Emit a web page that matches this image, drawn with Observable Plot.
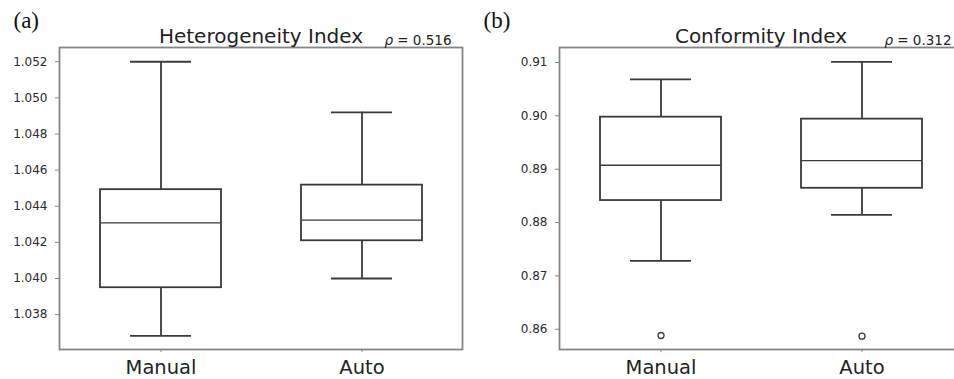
<!DOCTYPE html>
<html>
<head>
<meta charset="utf-8">
<script src="https://cdn.jsdelivr.net/npm/d3@7"></script>
<script src="https://cdn.jsdelivr.net/npm/@observablehq/plot@0.6"></script>
<style>
  html, body { margin: 0; padding: 0; background: #fff; }
  #wrap { position: relative; width: 954px; height: 379px; overflow: hidden; background: #fff; }
  .panel { position: absolute; top: 0; }
  .panel svg { display: block; max-width: none !important; }
</style>
</head>
<body>
<div id="wrap">
  <div id="pa" class="panel" style="left:0px; width:470px"></div>
  <div id="pb" class="panel" style="left:470px; width:500px"></div>
</div>
<script>
// ---- data ----
const categories = ["Manual", "Auto"];

// Heterogeneity Index (panel a)
const hetMin = [1.03682, 1.04000];
const hetQ1  = [1.03949, 1.04209];
const hetMed = [1.04308, 1.04323];
const hetQ3  = [1.04492, 1.04517];
const hetMax = [1.05200, 1.04920];
const hetTicks = [1.038, 1.040, 1.042, 1.044, 1.046, 1.048, 1.050, 1.052];
const hetDomain = [1.03607, 1.05279];
const hetRho = "ρ = 0.516";

// Conformity Index (panel b)
const confMin = [0.87281, 0.88142];
const confQ1  = [0.88412, 0.88642];
const confMed = [0.89075, 0.89161];
const confQ3  = [0.89975, 0.89938];
const confMax = [0.90682, 0.91010];
const confOutCats = ["Manual", "Auto"];
const confOutVals = [0.85882, 0.85870];
const confTicks = [0.86, 0.87, 0.88, 0.89, 0.90, 0.91];
const confDomain = [0.8562, 0.91281];
const confRho = "ρ = 0.312";

const LINE = "#3a3a3a";
const FRAME = "#858585";
const TEXT = "#222";

function makePanel({width, marginLeft, marginRight, stats, outCats, outVals, ticks, domain, fmt, title, rho, tag}) {
  const rows = categories.map((c, i) => ({cat: c, lo: stats[0][i], q1: stats[1][i], med: stats[2][i], q3: stats[3][i], hi: stats[4][i]}));
  const outs = (outCats || []).map((c, i) => ({cat: c, v: outVals[i]}));
  const svg = Plot.plot({
    width, height: 379,
    marginLeft, marginRight, marginTop: 47, marginBottom: 30,
    style: {fontFamily: "DejaVu Sans", color: TEXT, background: "transparent", overflow: "visible", maxWidth: "none"},
    x: {domain: categories, paddingInner: 0.4, paddingOuter: 0.2, axis: null},
    y: {domain, axis: null},
    marks: [
      Plot.ruleX(rows, {x: "cat", y1: "lo", y2: "q1", stroke: LINE, strokeWidth: 1.8}),
      Plot.ruleX(rows, {x: "cat", y1: "q3", y2: "hi", stroke: LINE, strokeWidth: 1.8}),
      Plot.tickY(rows, {x: "cat", y: "lo", stroke: LINE, strokeWidth: 1.8, insetLeft: 30, insetRight: 30}),
      Plot.tickY(rows, {x: "cat", y: "hi", stroke: LINE, strokeWidth: 1.8, insetLeft: 30, insetRight: 30}),
      Plot.barY(rows, {x: "cat", y1: "q1", y2: "q3", fill: "white", stroke: LINE, strokeWidth: 1.8}),
      Plot.tickY(rows, {x: "cat", y: "med", stroke: LINE, strokeWidth: 1.4}),
      Plot.dot(outs, {x: "cat", y: "v", r: 3, stroke: LINE, strokeWidth: 1.3, fill: "white"}),
      Plot.frame({stroke: FRAME, strokeWidth: 1.8}),
      Plot.axisY({ticks, tickFormat: d3.format(fmt), tickSize: 4, tickPadding: 8, fontSize: 12, label: null, stroke: FRAME, fill: "#2a2a2a"}),
      Plot.axisX({tickSize: 3, tickPadding: 7.5, fontSize: 19.5, label: null, stroke: FRAME, fill: TEXT}),
      Plot.text([title], {frameAnchor: "top", lineAnchor: "middle", text: d => d, dy: -11.4, fontSize: 20, fill: TEXT}),
      Plot.text([rho], {frameAnchor: "top-right", lineAnchor: "middle", textAnchor: "end", text: d => d, dx: -11, dy: -6.5, fontSize: 13.5, fill: TEXT}),
      Plot.text([tag], {frameAnchor: "top-left", lineAnchor: "middle", textAnchor: "start", text: d => d, dx: -(marginLeft - 13), dy: -26.5, fontSize: 23, fontFamily: "Liberation Serif", fill: "#111"})
    ]
  });
  // italicize rho
  d3.select(svg).selectAll("text").each(function() {
    const t = this.textContent;
    if (t.startsWith("ρ")) {
      const el = d3.select(this);
      const rest = t.slice(1);
      el.text(null);
      el.append("tspan").attr("font-style", "italic").text("ρ");
      el.append("tspan").text(rest);
    }
  });
  return svg;
}

document.getElementById("pa").appendChild(makePanel({
  width: 470, marginLeft: 59, marginRight: 8,
  stats: [hetMin, hetQ1, hetMed, hetQ3, hetMax],
  ticks: hetTicks, domain: hetDomain, fmt: ".3f",
  title: "Heterogeneity Index", rho: hetRho, tag: "(a)"
}));

document.getElementById("pb").appendChild(makePanel({
  width: 500, marginLeft: 89, marginRight: 8,
  stats: [confMin, confQ1, confMed, confQ3, confMax],
  outCats: confOutCats, outVals: confOutVals,
  ticks: confTicks, domain: confDomain, fmt: ".2f",
  title: "Conformity Index", rho: confRho, tag: "(b)"
}));
</script>
</body>
</html>
